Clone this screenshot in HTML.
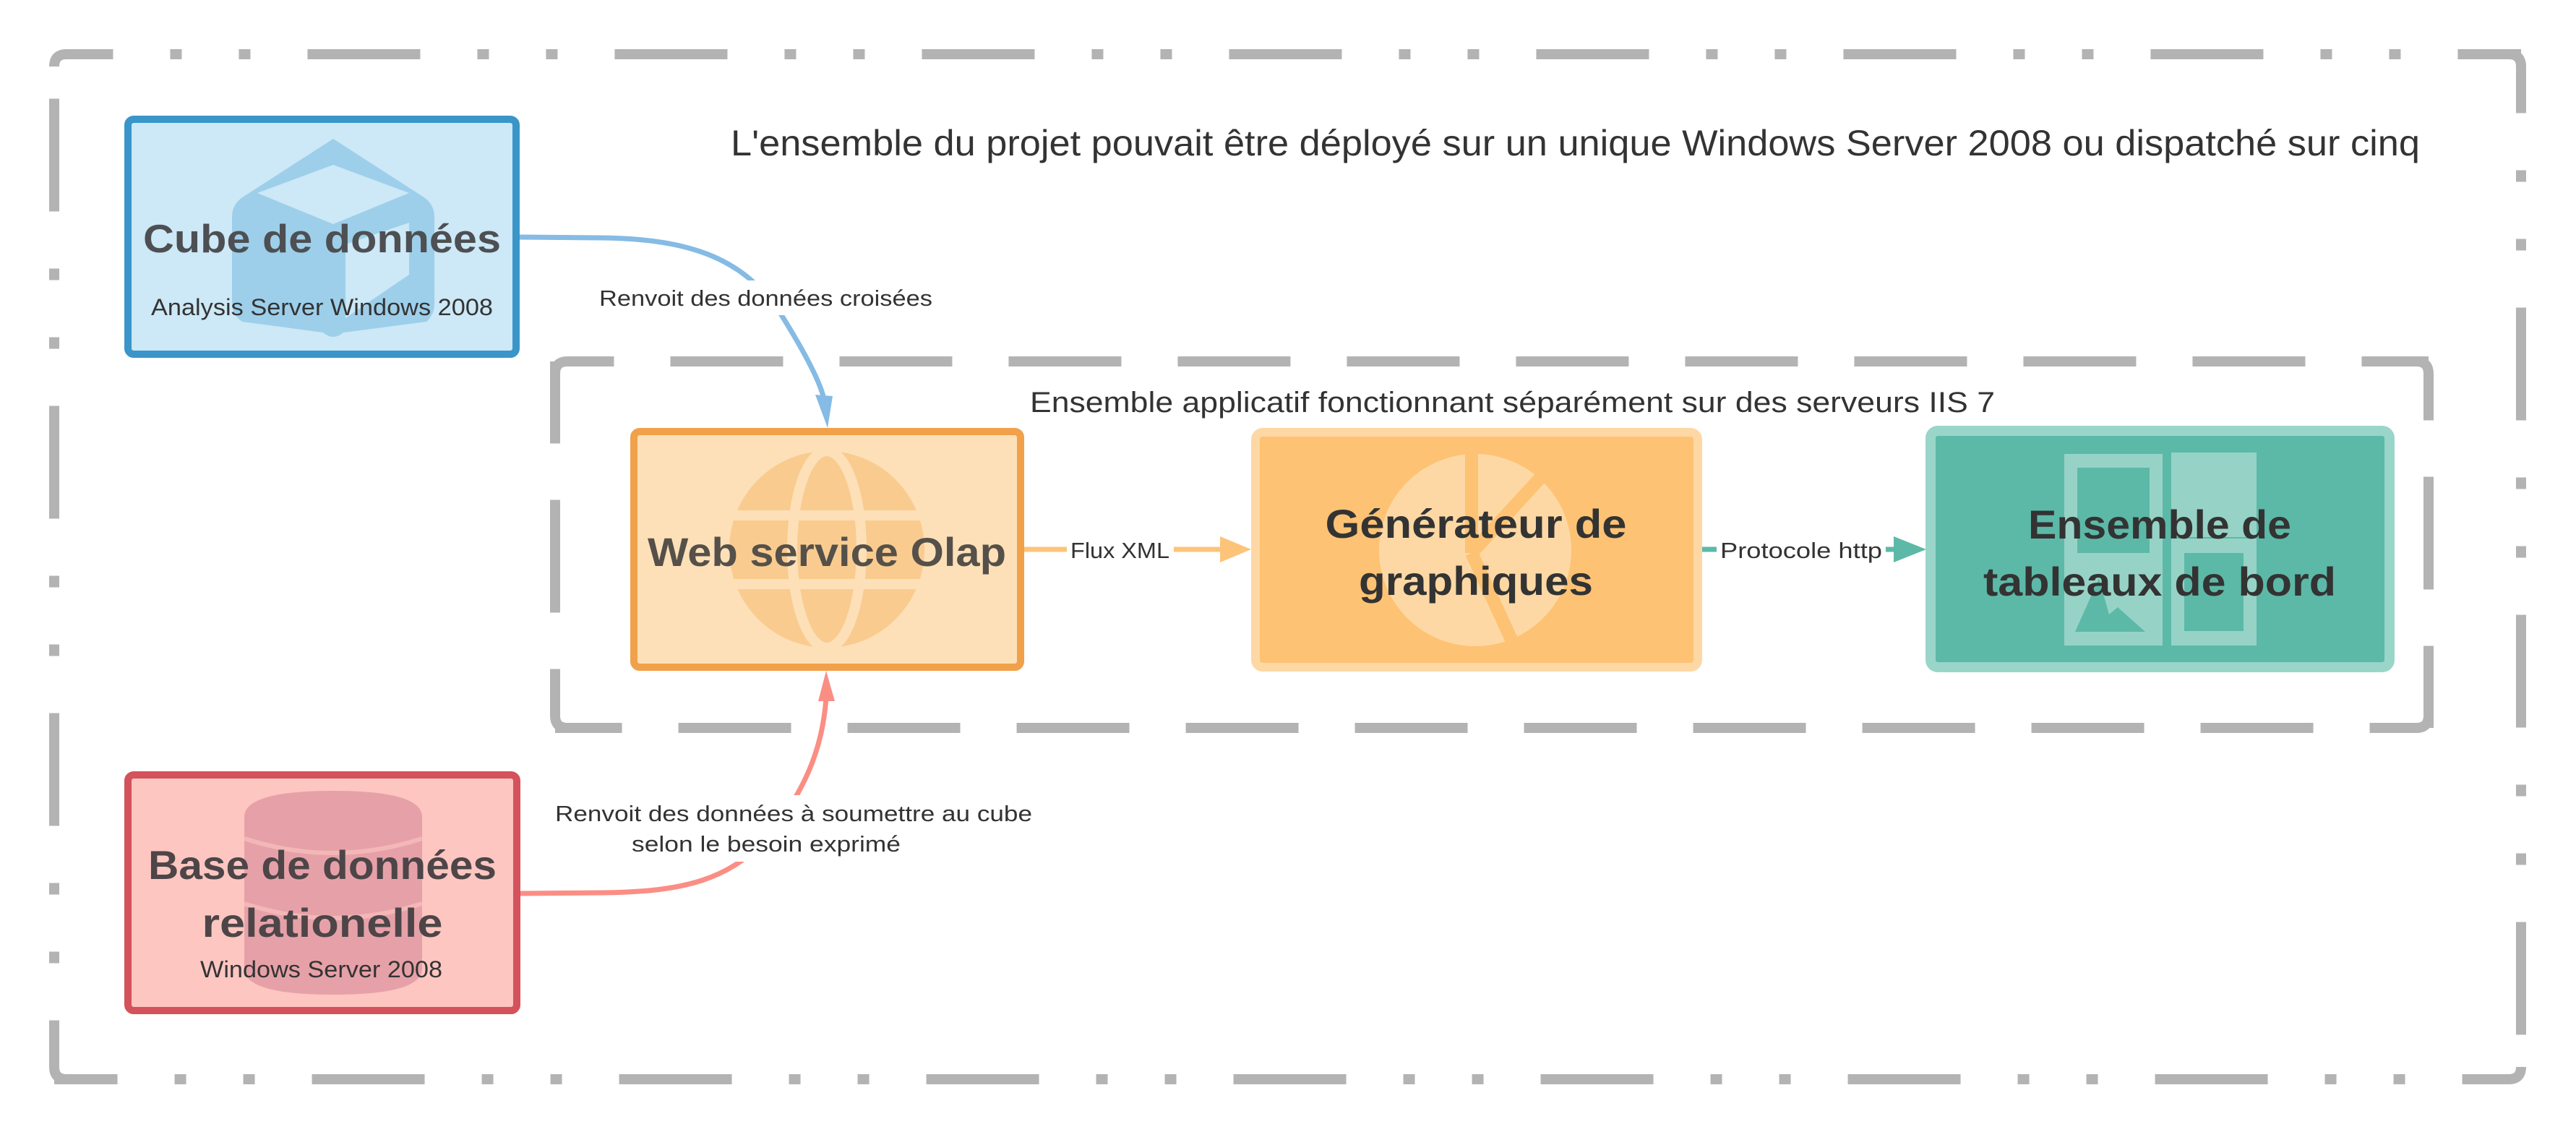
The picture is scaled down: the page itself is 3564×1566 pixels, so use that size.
<!DOCTYPE html>
<html><head><meta charset="utf-8"><style>
html,body{margin:0;padding:0;background:#fff;}
svg{display:block;}
text{font-family:"Liberation Sans",sans-serif;}
</style></head><body>
<svg width="3564" height="1566" viewBox="0 0 3564 1566" xmlns="http://www.w3.org/2000/svg">
<rect width="3564" height="1566" fill="#fff"/>
<!-- outer dashed: per side -->
<g fill="none" stroke="#b3b3b3" stroke-width="14" stroke-dasharray="156 79 16 79 16 79" stroke-dashoffset="64">
<path d="M75,92 Q75,75 92,75 L3488,75"/>
<path d="M3471,75 Q3488,75 3488,92 L3488,1493"/>
<path d="M3488,1476 Q3488,1493 3471,1493 L75,1493"/>
<path d="M92,1493 Q75,1493 75,1476 L75,75"/>
</g>
<!-- inner dashed: per side -->
<g fill="none" stroke="#b3b3b3" stroke-width="14" stroke-dasharray="156 78" stroke-dashoffset="64">
<path d="M768,517 Q768,500 785,500 L3360,500"/>
<path d="M3343,500 Q3360,500 3360,517 L3360,1007"/>
<path d="M3360,990 Q3360,1007 3343,1007 L768,1007"/>
<path d="M785,1007 Q768,1007 768,990 L768,500"/>
</g>

<text x="1011" y="215" font-size="50" fill="#333" textLength="2337" lengthAdjust="spacingAndGlyphs">L'ensemble du projet pouvait être déployé sur un unique Windows Server 2008 ou dispatché sur cinq</text>
<text x="1425" y="570" font-size="40" fill="#333" textLength="1335" lengthAdjust="spacingAndGlyphs">Ensemble applicatif fonctionnant séparément sur des serveurs IIS 7</text>

<!-- edges -->
<path d="M719,328 L830,329 C960,330 1030,360 1080,434 C1115,490 1135,530 1140,552" fill="none" stroke="#85bbe4" stroke-width="7"/>
<polygon points="1128,546 1152,548 1145,592" fill="#85bbe4"/>
<rect x="822" y="388" width="476" height="48" fill="#fff"/>
<text x="829" y="423" font-size="31" fill="#333" textLength="461" lengthAdjust="spacingAndGlyphs">Renvoit des données croisées</text>

<path d="M720,1236 L833,1235 C950,1234 1010,1215 1060,1160 C1110,1100 1138,1040 1143,965" fill="none" stroke="#fb8e84" stroke-width="7"/>
<polygon points="1132,970 1155,970 1143,928" fill="#fb8e84"/>
<rect x="762" y="1100" width="672" height="92" fill="#fff"/>
<text x="768" y="1136" font-size="31" fill="#333" textLength="660" lengthAdjust="spacingAndGlyphs">Renvoit des données à soumettre au cube</text>
<text x="874" y="1178" font-size="31" fill="#333" textLength="372" lengthAdjust="spacingAndGlyphs">selon le besoin exprimé</text>

<line x1="1417" y1="760" x2="1695" y2="760" stroke="#fdc479" stroke-width="7"/>
<polygon points="1688,742 1731,760 1688,778" fill="#fdc479"/>
<rect x="1476" y="740" width="148" height="42" fill="#fff"/>
<text x="1481" y="772" font-size="31" fill="#333" textLength="137" lengthAdjust="spacingAndGlyphs">Flux XML</text>

<line x1="2354" y1="760" x2="2625" y2="760" stroke="#5cb9a7" stroke-width="7"/>
<polygon points="2620,742 2665,760 2620,778" fill="#5cb9a7"/>
<rect x="2375" y="740" width="234" height="42" fill="#fff"/>
<text x="2380" y="772" font-size="31" fill="#333" textLength="224" lengthAdjust="spacingAndGlyphs">Protocole http</text>

<!-- Cube node -->
<rect x="177" y="165" width="537" height="325" rx="8" fill="#cde8f6" stroke="#3a95c9" stroke-width="10"/>
<path d="M461,192 L585,272 Q601,282 601,300 L601,420 Q601,435 590,445 L475,460 Q461,472 447,460 L335,445 Q321,435 321,420 L321,300 Q321,282 337,272 Z" fill="#9dcfea"/>
<path d="M461,228 L566,267 L461,310 L356,267 Z" fill="#cde8f6"/>
<path d="M478,338 L566,308 L566,380 L478,440 Z" fill="#cde8f6"/>
<text x="198" y="349" font-size="55" font-weight="bold" fill="#4d4f52" textLength="495" lengthAdjust="spacingAndGlyphs">Cube de données</text>
<text x="209" y="436" font-size="32" fill="#333" textLength="473" lengthAdjust="spacingAndGlyphs">Analysis Server Windows 2008</text>

<!-- Web service Olap -->
<rect x="877" y="597" width="535" height="326" rx="8" fill="#fde0b8" stroke="#f0a14a" stroke-width="10"/>
<ellipse cx="1144" cy="760" rx="135" ry="136" fill="#f9cb8f"/>
<g stroke="#fde0b8" stroke-width="14" fill="none">
<ellipse cx="1144" cy="760" rx="48" ry="136"/>
<line x1="1000" y1="713" x2="1290" y2="713"/>
<line x1="1000" y1="808" x2="1290" y2="808"/>
</g>
<text x="896" y="783" font-size="56" font-weight="bold" fill="#555049" textLength="496" lengthAdjust="spacingAndGlyphs">Web service Olap</text>

<!-- Generateur -->
<rect x="1737" y="598" width="612" height="325" rx="10" fill="#fdc273" stroke="#fed8a4" stroke-width="12"/>
<circle cx="2041" cy="761" r="133" fill="#fed8a4"/>
<g stroke="#fdc273" stroke-width="18" fill="none">
<line x1="2036" y1="625" x2="2036" y2="765"/>
<line x1="2036" y1="765" x2="2098" y2="900"/>
<line x1="2036" y1="765" x2="2132" y2="660"/>
</g>
<text x="2042" y="744" font-size="56" font-weight="bold" fill="#333" text-anchor="middle" textLength="417" lengthAdjust="spacingAndGlyphs">Générateur de</text>
<text x="2042" y="823" font-size="56" font-weight="bold" fill="#333" text-anchor="middle" textLength="324" lengthAdjust="spacingAndGlyphs">graphiques</text>

<!-- Ensemble tableaux -->
<rect x="2671" y="596" width="635" height="327" rx="10" fill="#5cb9a7" stroke="#9ad5ca" stroke-width="14"/>
<rect x="2856" y="628" width="136" height="265" fill="#96d3c6"/>
<rect x="3004" y="626" width="118" height="117" fill="#96d3c6"/>
<rect x="3004" y="745" width="118" height="148" fill="#96d3c6"/>
<rect x="2874" y="647" width="100" height="118" fill="#5cb9a7"/>
<rect x="3022" y="765" width="82" height="108" fill="#5cb9a7"/>
<polygon points="2871,874 2904,800 2918,850 2930,840 2968,874" fill="#5cb9a7"/>
<text x="2988" y="745" font-size="56" font-weight="bold" fill="#333" text-anchor="middle" textLength="364" lengthAdjust="spacingAndGlyphs">Ensemble de</text>
<text x="2988" y="824" font-size="56" font-weight="bold" fill="#333" text-anchor="middle" textLength="488" lengthAdjust="spacingAndGlyphs">tableaux de bord</text>

<!-- Base -->
<rect x="177" y="1072" width="538" height="326" rx="8" fill="#fdc6c1" stroke="#d4525b" stroke-width="10"/>
<path d="M338,1130 Q338,1094 461,1094 Q584,1094 584,1130 L584,1340 Q584,1376 461,1376 Q338,1376 338,1340 Z" fill="#e6a1a8"/>
<g stroke="#fdc6c1" stroke-width="6" fill="none" opacity="0.6">
<path d="M338,1160 Q461,1200 584,1160"/>
<path d="M338,1250 Q461,1290 584,1250"/>
</g>
<text x="446" y="1216" font-size="56" font-weight="bold" fill="#4d4548" text-anchor="middle" textLength="482" lengthAdjust="spacingAndGlyphs">Base de données</text>
<text x="446" y="1296" font-size="56" font-weight="bold" fill="#4d4548" text-anchor="middle" textLength="333" lengthAdjust="spacingAndGlyphs">relationelle</text>
<text x="277" y="1352" font-size="32" fill="#333" textLength="335" lengthAdjust="spacingAndGlyphs">Windows Server 2008</text>
</svg>
</body></html>
